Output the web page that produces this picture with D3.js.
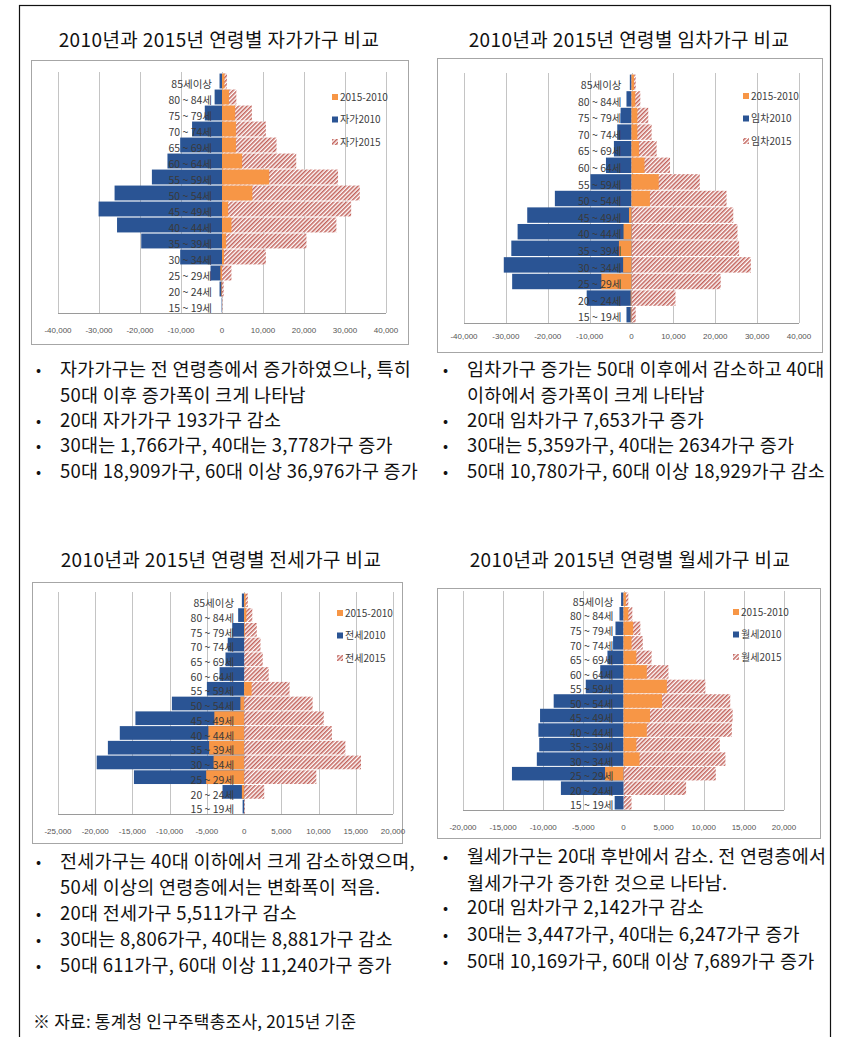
<!DOCTYPE html>
<html>
<head>
<meta charset="utf-8">
<script src="https://cdn.jsdelivr.net/npm/d3@7"></script>
<style>
  body { margin: 0; background: #fff; }
  svg { display: block; }
  text { font-family: "Noto Sans CJK KR", "Noto Sans", sans-serif; }
</style>
</head>
<body>
<svg id="page" width="844" height="1037"></svg>
<script>
// age groups, top to bottom as drawn
var ageGroups = ["85세이상", "80 ~ 84세", "75 ~ 79세", "70 ~ 74세", "65 ~ 69세", "60 ~ 64세",
  "55 ~ 59세", "50 ~ 54세", "45 ~ 49세", "40 ~ 44세", "35 ~ 39세", "30 ~ 34세",
  "25 ~ 29세", "20 ~ 24세", "15 ~ 19세"];

// 자가 (owner)
var own2010 = [-600, -1800, -4200, -7300, -10200, -13300, -17100, -26200, -30100, -25600, -19700, -10200, -2800, -600, -100];
var own2015 = [1200, 3500, 7300, 10700, 13300, 18100, 28300, 33600, 31500, 27900, 20600, 10700, 2300, 400, 100];
var ownDiff = [600, 1700, 3200, 3400, 3400, 4900, 11500, 7400, 1500, 2300, 1000, 500, -400, -150, 0];

// 임차 (renter)
var rent2010 = [-400, -1200, -2600, -3400, -4200, -6100, -9800, -18300, -24900, -27200, -28700, -30500, -28500, -10700, -1200];
var rent2015 = [1000, 2100, 4000, 4800, 6000, 9200, 16300, 22700, 24300, 25300, 25700, 28500, 21300, 10500, 1000];
var rentDiff = [600, 900, 1400, 1400, 1800, 3100, 6500, 4400, -600, -1900, -3000, -2000, -7200, -200, -200];

// 전세 (jeonse)
var jeonse2010 = [-300, -800, -1600, -2200, -2500, -3300, -5000, -9700, -14600, -16700, -18300, -19800, -14800, -2900, -200];
var jeonse2015 = [500, 1100, 1700, 2200, 2500, 3300, 6100, 9200, 10700, 11800, 13600, 15700, 9700, 2700, 100];
var jeonseDiff = [200, 300, 100, 0, 0, 0, 1000, -500, -4000, -4800, -4700, -4100, -5100, -300, 0];

// 월세 (monthly rent)
var wolse2010 = [-300, -500, -1000, -1300, -2000, -2900, -4700, -8700, -10400, -10600, -10500, -10800, -13900, -7800, -1100];
var wolse2015 = [600, 1100, 2100, 2400, 3500, 5600, 10200, 13300, 13600, 13500, 12000, 12700, 11500, 7800, 1000];
var wolseDiff = [300, 600, 1200, 1000, 1600, 2900, 5400, 4800, 3300, 2900, 1600, 2000, -2300, 0, 0];

var titles = ["2010년과 2015년 연령별 자가가구 비교", "2010년과 2015년 연령별 임차가구 비교",
  "2010년과 2015년 연령별 전세가구 비교", "2010년과 2015년 연령별 월세가구 비교"];
var seriesNames = [["2015-2010", "자가2010", "자가2015"], ["2015-2010", "임차2010", "임차2015"],
  ["2015-2010", "전세2010", "전세2015"], ["2015-2010", "월세2010", "월세2015"]];
var domains = [[-40000, 40000], [-40000, 40000], [-25000, 20000], [-20000, 20000]];
var tickSteps = [10000, 10000, 5000, 5000];

var notes = [
  [["•", "자가가구는 전 연령층에서 증가하였으나, 특히"], ["", "50대 이후 증가폭이 크게 나타남"],
   ["•", "20대 자가가구 193가구 감소"], ["•", "30대는 1,766가구, 40대는 3,778가구 증가"],
   ["•", "50대 18,909가구, 60대 이상 36,976가구 증가"]],
  [["•", "임차가구 증가는 50대 이후에서 감소하고 40대"], ["", "이하에서 증가폭이 크게 나타남"],
   ["•", "20대 임차가구 7,653가구 증가"], ["•", "30대는 5,359가구, 40대는 2634가구 증가"],
   ["•", "50대 10,780가구, 60대 이상 18,929가구 감소"]],
  [["•", "전세가구는 40대 이하에서 크게 감소하였으며,"], ["", "50세 이상의 연령층에서는 변화폭이 적음."],
   ["•", "20대 전세가구 5,511가구 감소"], ["•", "30대는 8,806가구, 40대는 8,881가구 감소"],
   ["•", "50대 611가구, 60대 이상 11,240가구 증가"]],
  [["•", "월세가구는 20대 후반에서 감소. 전 연령층에서"], ["", "월세가구가 증가한 것으로 나타남."],
   ["•", "20대 임차가구 2,142가구 감소"], ["•", "30대는 3,447가구, 40대는 6,247가구 증가"],
   ["•", "50대 10,169가구, 60대 이상 7,689가구 증가"]]
];
var source = "※ 자료: 통계청 인구주택총조사, 2015년 기준";

var values = [[ownDiff, own2010, own2015], [rentDiff, rent2010, rent2015],
  [jeonseDiff, jeonse2010, jeonse2015], [wolseDiff, wolse2010, wolse2015]];

// where each panel sits on the page
var layout = [
  {tx: 219, ty: 40, box: [31, 60, 377, 284], x0: 58, x1: 386, top: 73, bottom: 313, tickY: 330, lx: 332, ly: 97, bx: 36, ly0: 370, lh: [0, 26, 51, 76, 102]},
  {tx: 629, ty: 40, box: [437, 58, 385, 294], x0: 464, x1: 799, top: 74, bottom: 323, tickY: 336, lx: 743, ly: 96, bx: 443, ly0: 370, lh: [0, 26, 51, 76, 102]},
  {tx: 221, ty: 560, box: [32, 582, 370, 261], x0: 58, x1: 393, top: 593, bottom: 814, tickY: 831, lx: 337, ly: 613, bx: 36, ly0: 862, lh: [0, 26, 52, 78, 104]},
  {tx: 630, ty: 560, box: [437, 588, 383, 250], x0: 463, x1: 784, top: 592, bottom: 810, tickY: 827, lx: 733, ly: 612, bx: 443, ly0: 857, lh: [0, 27, 51, 78, 105]}
];

var BLUE = "#2a5494", ORANGE = "#f79646", HATCH = "#b8473f";
var fmt = function(d) { return d3.format(",")(d).replace("\u2212", "-"); };

var svg = d3.select("#page");

svg.append("defs").append("pattern")
  .attr("id", "hatch")
  .attr("patternUnits", "userSpaceOnUse")
  .attr("width", 3).attr("height", 3)
  .attr("patternTransform", "rotate(45)")
  .call(function(p) {
    p.append("rect").attr("width", 3).attr("height", 3).attr("fill", "#fff");
    p.append("line").attr("x1", 0.8).attr("x2", 0.8).attr("y1", 0).attr("y2", 3)
      .attr("stroke", HATCH).attr("stroke-width", 1.3);
  });

// outer frame
svg.append("rect").attr("x", 19.5).attr("y", 5.5).attr("width", 811).attr("height", 1040)
  .attr("fill", "none").attr("stroke", "#111").attr("stroke-width", 1.2);

layout.forEach(function(L, i) {
  var g = svg.append("g");
  var diff = values[i][0], v2010 = values[i][1], v2015 = values[i][2];

  g.append("text").attr("x", L.tx).attr("y", L.ty).attr("dy", "0.35em")
    .attr("text-anchor", "middle").attr("font-size", 19).attr("letter-spacing", 0.4)
    .attr("fill", "#111").text(titles[i]);

  g.append("rect").attr("x", L.box[0] + 0.5).attr("y", L.box[1] + 0.5)
    .attr("width", L.box[2]).attr("height", L.box[3])
    .attr("fill", "#fff").attr("stroke", "#a6a6a6");

  var x = d3.scaleLinear().domain(domains[i]).range([L.x0, L.x1]);
  var y = d3.scaleBand().domain(ageGroups).range([L.top, L.bottom])
    .paddingInner(0.07).paddingOuter(0.035);
  var ticks = d3.range(domains[i][0], domains[i][1] + 1, tickSteps[i]);

  g.selectAll(".grid").data(ticks).enter().append("line")
    .attr("x1", function(d) { return Math.round(x(d)) + 0.5; })
    .attr("x2", function(d) { return Math.round(x(d)) + 0.5; })
    .attr("y1", L.top - 1).attr("y2", L.bottom)
    .attr("stroke", "#c4c4c4");

  g.append("line").attr("x1", L.x0).attr("x2", L.x1)
    .attr("y1", L.bottom + 0.5).attr("y2", L.bottom + 0.5).attr("stroke", "#9a9a9a");

  g.selectAll(".tick").data(ticks).enter().append("text")
    .attr("x", function(d) { return x(d); }).attr("y", L.tickY).attr("dy", "0.35em")
    .attr("text-anchor", "middle").attr("font-size", 8)
    .style("font-family", "'Liberation Sans', Arial, sans-serif")
    .attr("fill", "#555").text(fmt);

  function bars(data, fill) {
    g.selectAll(null).data(data).enter().append("rect")
      .attr("x", function(d) { return x(Math.min(0, d)); })
      .attr("y", function(d, j) { return y(ageGroups[j]); })
      .attr("width", function(d) { return Math.abs(x(d) - x(0)); })
      .attr("height", y.bandwidth())
      .attr("fill", fill);
  }
  bars(v2015, "url(#hatch)");
  bars(v2010, BLUE);
  bars(diff, ORANGE);

  g.selectAll(".cat").data(ageGroups).enter().append("text")
    .attr("x", x(0) - 10)
    .attr("y", function(d) { return y(d) + y.bandwidth() / 2 + 3; })
    .attr("dy", "0.35em").attr("text-anchor", "end")
    .attr("font-size", 10.5).attr("fill", "#3a3a3a")
    .text(function(d) { return d; });

  var fills = [ORANGE, BLUE, "url(#hatch)"];
  seriesNames[i].forEach(function(name, k) {
    var yy = L.ly + k * 22.5;
    g.append("rect").attr("x", L.lx).attr("y", yy - 3).attr("width", 6).attr("height", 6)
      .attr("fill", fills[k]);
    g.append("text").attr("x", L.lx + 8).attr("y", yy).attr("dy", "0.35em")
      .attr("font-size", 10).attr("fill", "#404040").text(name);
  });

  notes[i].forEach(function(line, k) {
    var yy = L.ly0 + L.lh[k];
    if (line[0]) {
      g.append("text").attr("x", L.bx).attr("y", yy).attr("dy", "0.35em")
        .attr("font-size", 15).attr("fill", "#111").text(line[0]);
    }
    g.append("text").attr("x", L.bx + 24).attr("y", yy).attr("dy", "0.35em")
      .attr("font-size", 18.5).attr("letter-spacing", 0.25)
      .attr("fill", "#111").text(line[1]);
  });
});

svg.append("text").attr("x", 33).attr("y", 1022).attr("dy", "0.35em")
  .attr("font-size", 17).attr("letter-spacing", 0.2).attr("fill", "#111").text(source);
</script>
</body>
</html>
